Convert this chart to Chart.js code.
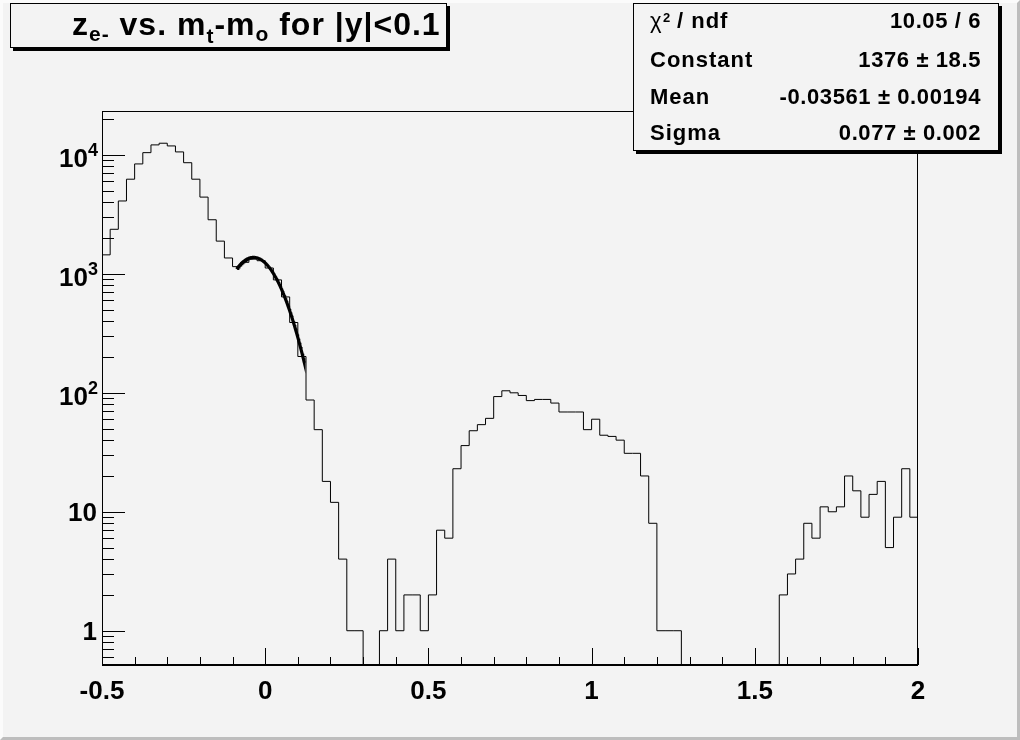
<!DOCTYPE html>
<html><head><meta charset="utf-8">
<script src="https://cdn.jsdelivr.net/npm/chart.js@4.4.1/dist/chart.umd.min.js"></script>
<style>html,body{margin:0;padding:0;background:#f3f3f3;}canvas{display:block}</style>
</head><body>
<canvas id="c" width="1020" height="740"></canvas>
<script>
// ---- data ----
const binLow = -0.5, binHigh = 2.0, binWidth = 0.025;
const binCounts = [
  1445, 2370, 4100, 6250, 8400, 10450, 12140, 12540, 11900, 10600,
  8600, 6250, 4420, 2850, 1885, 1360, 1150, 1250, 1330, 1290,
  1120, 890, 640, 390, 202, 87, 49, 18, 12, 4,
  1, 1, 0, 0, 1, 4, 1, 2, 2, 1,
  2, 7, 6, 23, 36, 48, 54, 61, 93, 104,
  100, 95, 86, 88, 88, 82, 69, 69, 69, 49,
  60, 44, 43, 40, 31, 31, 20, 8, 1, 1,
  1, 0, 0, 0, 0, 0, 0, 0, 0, 0,
  0, 0, 0, 2, 3, 4, 8, 6, 11, 10,
  11, 20, 15, 9, 14, 18, 5, 9, 23, 9
];
const xTickValues = [-0.5, 0, 0.5, 1, 1.5, 2];
const xTickLabels = ['-0.5', '0', '0.5', '1', '1.5', '2'];
const yTickValues = [1, 10, 100, 1000, 10000];
const yTickBase = ['1', '10', '10', '10', '10'];
const yTickExp = ['', '', '2', '3', '4'];
const yAxisMin = 0.515, yAxisMax = 23400;
const fitConstant = 1376, fitMean = -0.03561, fitSigma = 0.077;
const fitRange = [-0.0875, 0.12];
const statsLabels = ['\u03C7\u00B2 / ndf', 'Constant', 'Mean', 'Sigma'];
const statsValues = ['10.05 / 6', '1376 \u00B1 18.5', '-0.03561 \u00B1 0.00194', '0.077 \u00B1 0.002'];
// title pieces: text and role (main / sub)
const titleParts = [['z','main'],['e-','sub'],[' vs. m','main'],['t','sub'],['-m','main'],['o','sub'],[' for |y|<0.1','main']];

// ---- build datasets ----
const histPoints = binCounts.map((c, i) => ({ x: binLow + i * binWidth, y: c > 0 ? c : yAxisMin }));
histPoints.push({ x: binHigh, y: binCounts[binCounts.length - 1] > 0 ? binCounts[binCounts.length - 1] : yAxisMin });

const fitPoints = [];
const nFit = 120;
for (let i = 0; i <= nFit; i++) {
  const x = fitRange[0] + (fitRange[1] - fitRange[0]) * i / nFit;
  const z = (x - fitMean) / fitSigma;
  fitPoints.push({ x: x, y: fitConstant * Math.exp(-0.5 * z * z) });
}

const FONT = '"Liberation Sans", Arial, Helvetica, sans-serif';

const bgPlugin = {
  id: 'bg',
  beforeDraw(chart) {
    const ctx = chart.ctx, W = chart.width, H = chart.height;
    ctx.save();
    ctx.fillStyle = '#f3f3f3';
    ctx.fillRect(0, 0, W, H);
    ctx.fillStyle = '#fbfbfb';
    ctx.beginPath(); ctx.moveTo(0,0); ctx.lineTo(W,0); ctx.lineTo(W-3,3); ctx.lineTo(3,3); ctx.lineTo(3,H-3); ctx.lineTo(0,H); ctx.closePath(); ctx.fill();
    ctx.fillStyle = '#bdbdbd';
    ctx.beginPath(); ctx.moveTo(W,H); ctx.lineTo(0,H); ctx.lineTo(3,H-3); ctx.lineTo(W-3,H-3); ctx.lineTo(W-3,3); ctx.lineTo(W,0); ctx.closePath(); ctx.fill();
    ctx.restore();
  }
};

const decorPlugin = {
  id: 'decor',
  afterDraw(chart) {
    const ctx = chart.ctx, a = chart.chartArea;
    const xs = chart.scales.x, ys = chart.scales.y;
    ctx.save();
    ctx.strokeStyle = '#000';
    // frame
    ctx.lineWidth = 1;
    ctx.strokeRect(a.left + 0.5, a.top + 0.5, a.right - a.left - 1, a.bottom - a.top);
    ctx.lineWidth = 2;
    ctx.beginPath(); ctx.moveTo(a.left, a.bottom); ctx.lineTo(a.right, a.bottom); ctx.stroke();
    ctx.lineWidth = 1;
    // x ticks (inward)
    for (let k = 0; k <= 25; k++) {
      const v = binLow + k * 0.1;
      const px = Math.round(xs.getPixelForValue(v)) + 0.5;
      const len = (k % 5 === 0) ? 17 : 8;
      ctx.beginPath(); ctx.moveTo(px, a.bottom); ctx.lineTo(px, a.bottom - len); ctx.stroke();
    }
    // y ticks (log, inward)
    for (let d = -1; d <= 4; d++) {
      for (let m = 1; m <= 9; m++) {
        const v = m * Math.pow(10, d);
        if (v < yAxisMin || v > yAxisMax) continue;
        const py = Math.round(ys.getPixelForValue(v)) + 0.5;
        const len = (m === 1) ? 23 : 12;
        ctx.beginPath(); ctx.moveTo(a.left, py); ctx.lineTo(a.left + len, py); ctx.stroke();
      }
    }
    // y tick labels with superscript exponents
    ctx.fillStyle = '#000';
    ctx.textBaseline = 'alphabetic';
    ctx.textAlign = 'right';
    yTickValues.forEach((v, i) => {
      const py = ys.getPixelForValue(v);
      if (yTickExp[i]) {
        ctx.font = 'bold 18px ' + FONT;
        const ew = ctx.measureText(yTickExp[i]).width;
        ctx.fillText(yTickExp[i], 98, py + 1);
        ctx.font = 'bold 26px ' + FONT;
        ctx.fillText(yTickBase[i], 98 - ew, py + 12);
      } else {
        ctx.font = 'bold 26px ' + FONT;
        ctx.fillText(yTickBase[i], 97, py + 9.5);
      }
    });
    // title box
    drawBox(ctx, 10, 3, 447, 48);
    ctx.fillStyle = '#000';
    ctx.textAlign = 'left';
    let tx = 72;
    ctx.letterSpacing = '1px';
    titleParts.forEach(([t, role]) => {
      if (role === 'main') {
        ctx.font = 'bold 32px ' + FONT;
        ctx.fillText(t, tx, 35);
      } else {
        ctx.font = 'bold 21px ' + FONT;
        ctx.fillText(t, tx, t === 't' ? 43 : 41);
      }
      tx += ctx.measureText(t).width;
    });
    // stats box
    drawBox(ctx, 633, 3, 999, 151);
    ctx.fillStyle = '#000';
    const baselines = [28, 67, 104, 140];
    statsLabels.forEach((lab, i) => {
      ctx.textAlign = 'left';
      if (i === 0) {
        ctx.letterSpacing = '0px';
        ctx.font = '22px ' + FONT;
        ctx.fillText('\u03C7', 650, baselines[i]);
        ctx.font = 'bold 13px ' + FONT;
        ctx.fillText('2', 663, 22);
        ctx.letterSpacing = '1px';
        ctx.font = 'bold 22px ' + FONT;
        ctx.fillText('/ ndf', 677, baselines[i]);
      } else {
        ctx.letterSpacing = '1px';
        ctx.font = 'bold 22px ' + FONT;
        ctx.fillText(lab, 650, baselines[i]);
      }
      ctx.textAlign = 'right';
      ctx.letterSpacing = '0.6px';
      ctx.font = 'bold 22px ' + FONT;
      ctx.fillText(statsValues[i], 981, baselines[i]);
    });
    ctx.restore();
  }
};

function drawBox(ctx, x0, y0, x1, y1) {
  ctx.save();
  ctx.fillStyle = '#000';
  ctx.fillRect(x0 + 3, y1, x1 - x0, 3);
  ctx.fillRect(x1, y0 + 3, 3, y1 - y0);
  ctx.fillStyle = '#f3f3f3';
  ctx.fillRect(x0, y0, x1 - x0, y1 - y0);
  ctx.strokeStyle = '#000';
  ctx.lineWidth = 1;
  ctx.strokeRect(x0 + 0.5, y0 + 0.5, x1 - x0 - 1, y1 - y0 - 1);
  ctx.restore();
}

new Chart(document.getElementById('c'), {
  type: 'line',
  data: {
    datasets: [
      { label: 'hist', data: histPoints, stepped: 'before', borderColor: '#000', borderWidth: 1,
        pointRadius: 0, fill: false, tension: 0 },
      { label: 'fit', data: fitPoints, borderColor: '#000', borderWidth: 3.2,
        pointRadius: 0, fill: false, tension: 0 }
    ]
  },
  options: {
    responsive: false,
    animation: false,
    devicePixelRatio: 1,
    layout: { padding: { top: 111, right: 102, left: 0, bottom: 0 } },
    plugins: { legend: { display: false }, tooltip: { enabled: false }, title: { display: false } },
    scales: {
      x: {
        type: 'linear', min: binLow, max: binHigh,
        afterBuildTicks: s => { s.ticks = xTickValues.map(v => ({ value: v })); },
        afterFit: s => { s.height = 75; },
        grid: { display: false }, border: { display: false },
        ticks: { callback: (v, i) => xTickLabels[i], color: '#000', padding: 3,
                 maxRotation: 0, autoSkip: false,
                 font: { family: FONT, size: 26, weight: 'bold' } }
      },
      y: {
        type: 'logarithmic', min: yAxisMin, max: yAxisMax,
        afterBuildTicks: s => { s.ticks = yTickValues.map(v => ({ value: v })); },
        afterFit: s => { s.width = 102; },
        grid: { display: false }, border: { display: false },
        ticks: { display: false }
      }
    }
  },
  plugins: [bgPlugin, decorPlugin]
});
</script>
</body></html>
